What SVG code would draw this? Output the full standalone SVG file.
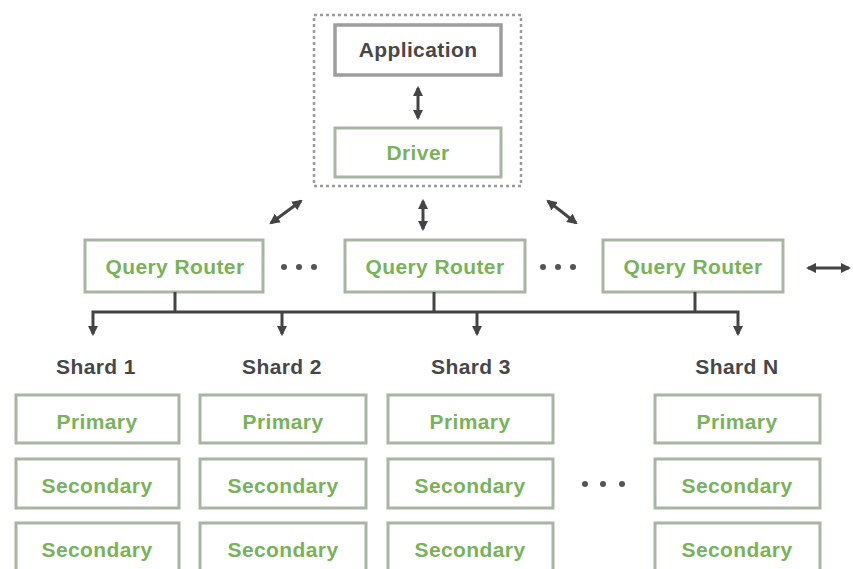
<svg xmlns="http://www.w3.org/2000/svg" width="853" height="569" viewBox="0 0 853 569">
<style>
.bg{fill:#ffffff}
.box{fill:#ffffff;stroke:#a9b5a3;stroke-width:3}
.gbox{fill:#ffffff;stroke:#9d9d9d;stroke-width:3.5}
.t{font-family:"Liberation Sans",Arial,sans-serif;font-weight:bold;font-size:21px;letter-spacing:0.4px;text-anchor:middle}
.green{fill:#78b35a}
.dark{fill:#474747}
.ln{stroke:#444444;stroke-width:3;fill:none}
.dot{fill:#555555}
.dash{fill:none;stroke:#9a9a9a;stroke-width:2.5;stroke-dasharray:3 3}
</style>
<defs>
<marker id="ah" viewBox="0 0 10 10" refX="8" refY="5" markerWidth="3.5" markerHeight="3.5" orient="auto-start-reverse" markerUnits="strokeWidth">
<path d="M0,0 L10,5 L0,10 z" fill="#444444"/>
</marker>
</defs>
<rect class="bg" x="0" y="0" width="853" height="569"/>
<rect class="dash" x="314" y="15" width="207" height="171"/>
<g id="application"><rect class="gbox" x="335" y="25" width="166" height="50"/><text class="t dark" x="418" y="57">Application</text></g>
<g id="driver"><rect class="box" x="335" y="128" width="166" height="49"/><text class="t green" x="418" y="160">Driver</text></g>
<g id="router1"><rect class="box" x="85" y="240" width="178" height="52"/><text class="t green" x="175" y="274">Query Router</text></g>
<g id="router2"><rect class="box" x="345" y="240" width="180" height="52"/><text class="t green" x="435" y="274">Query Router</text></g>
<g id="router3"><rect class="box" x="603" y="240" width="180" height="52"/><text class="t green" x="693" y="274">Query Router</text></g>
<g id="dots">
<circle class="dot" cx="284" cy="267" r="3"/><circle class="dot" cx="299" cy="267" r="3"/><circle class="dot" cx="314" cy="267" r="3"/>
<circle class="dot" cx="543" cy="267" r="3"/><circle class="dot" cx="558" cy="267" r="3"/><circle class="dot" cx="573" cy="267" r="3"/>
<circle class="dot" cx="585" cy="484" r="3"/><circle class="dot" cx="603" cy="484" r="3"/><circle class="dot" cx="622" cy="484" r="3"/>
</g>
<g id="shard-labels">
<text class="t dark" x="96" y="374">Shard 1</text>
<text class="t dark" x="282" y="374">Shard 2</text>
<text class="t dark" x="471" y="374">Shard 3</text>
<text class="t dark" x="737" y="374">Shard N</text>
</g>
<g id="shard1">
<g id="s1p"><rect class="box" x="16" y="395" width="163" height="48"/><text class="t green" x="97" y="429">Primary</text></g>
<g id="s1s1"><rect class="box" x="16" y="459" width="163" height="49"/><text class="t green" x="97" y="493">Secondary</text></g>
<g id="s1s2"><rect class="box" x="16" y="523" width="163" height="52"/><text class="t green" x="97" y="557">Secondary</text></g>
</g>
<g id="shard2">
<g id="s2p"><rect class="box" x="200" y="395" width="166" height="48"/><text class="t green" x="283" y="429">Primary</text></g>
<g id="s2s1"><rect class="box" x="200" y="459" width="166" height="49"/><text class="t green" x="283" y="493">Secondary</text></g>
<g id="s2s2"><rect class="box" x="200" y="523" width="166" height="52"/><text class="t green" x="283" y="557">Secondary</text></g>
</g>
<g id="shard3">
<g id="s3p"><rect class="box" x="388" y="395" width="165" height="48"/><text class="t green" x="470" y="429">Primary</text></g>
<g id="s3s1"><rect class="box" x="388" y="459" width="165" height="49"/><text class="t green" x="470" y="493">Secondary</text></g>
<g id="s3s2"><rect class="box" x="388" y="523" width="165" height="52"/><text class="t green" x="470" y="557">Secondary</text></g>
</g>
<g id="shardN">
<g id="sNp"><rect class="box" x="655" y="395" width="165" height="48"/><text class="t green" x="737" y="429">Primary</text></g>
<g id="sNs1"><rect class="box" x="655" y="459" width="165" height="49"/><text class="t green" x="737" y="493">Secondary</text></g>
<g id="sNs2"><rect class="box" x="655" y="523" width="165" height="52"/><text class="t green" x="737" y="557">Secondary</text></g>
</g>
<g id="connectors">
<line class="ln" x1="418" y1="88" x2="418" y2="118" marker-start="url(#ah)" marker-end="url(#ah)"/>
<line class="ln" x1="271" y1="223" x2="301" y2="201" marker-start="url(#ah)" marker-end="url(#ah)"/>
<line class="ln" x1="423" y1="201" x2="423" y2="229" marker-start="url(#ah)" marker-end="url(#ah)"/>
<line class="ln" x1="548" y1="201" x2="576" y2="223" marker-start="url(#ah)" marker-end="url(#ah)"/>
<line class="ln" x1="808" y1="268" x2="849" y2="268" marker-start="url(#ah)" marker-end="url(#ah)"/>
<line class="ln" x1="175" y1="292" x2="175" y2="312"/>
<line class="ln" x1="434" y1="292" x2="434" y2="312"/>
<line class="ln" x1="695" y1="292" x2="695" y2="312"/>
<polyline class="ln" points="93,334 93,312 738,312 738,334" marker-start="url(#ah)" marker-end="url(#ah)"/>
<line class="ln" x1="282" y1="312" x2="282" y2="334" marker-end="url(#ah)"/>
<line class="ln" x1="477" y1="312" x2="477" y2="334" marker-end="url(#ah)"/>
</g>
</svg>
